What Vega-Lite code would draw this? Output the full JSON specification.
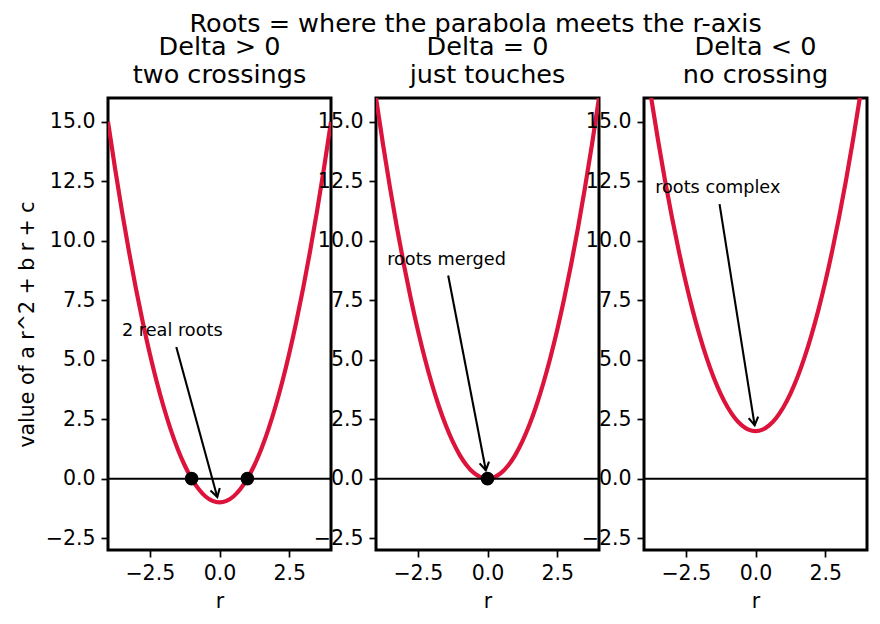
{
  "$schema": "https://vega.github.io/schema/vega-lite/v6.json",
  "background": "white",
  "padding": {"left": 15, "top": 12, "right": 5, "bottom": 5},
  "title": {
    "text": "Roots = where the parabola meets the r-axis",
    "anchor": "middle",
    "offset": -4,
    "dx": 33
  },
  "spacing": 45,
  "bounds": "flush",
  "datasets": {
    "curves": [
      {"r": -4.0, "pos": 15.0, "zero": 16.0, "neg": 18.0},
      {"r": -3.75, "pos": 13.0625, "zero": 14.0625, "neg": 16.0625},
      {"r": -3.5, "pos": 11.25, "zero": 12.25, "neg": 14.25},
      {"r": -3.25, "pos": 9.5625, "zero": 10.5625, "neg": 12.5625},
      {"r": -3.0, "pos": 8.0, "zero": 9.0, "neg": 11.0},
      {"r": -2.75, "pos": 6.5625, "zero": 7.5625, "neg": 9.5625},
      {"r": -2.5, "pos": 5.25, "zero": 6.25, "neg": 8.25},
      {"r": -2.25, "pos": 4.0625, "zero": 5.0625, "neg": 7.0625},
      {"r": -2.0, "pos": 3.0, "zero": 4.0, "neg": 6.0},
      {"r": -1.75, "pos": 2.0625, "zero": 3.0625, "neg": 5.0625},
      {"r": -1.5, "pos": 1.25, "zero": 2.25, "neg": 4.25},
      {"r": -1.25, "pos": 0.5625, "zero": 1.5625, "neg": 3.5625},
      {"r": -1.0, "pos": 0.0, "zero": 1.0, "neg": 3.0},
      {"r": -0.75, "pos": -0.4375, "zero": 0.5625, "neg": 2.5625},
      {"r": -0.5, "pos": -0.75, "zero": 0.25, "neg": 2.25},
      {"r": -0.25, "pos": -0.9375, "zero": 0.0625, "neg": 2.0625},
      {"r": 0.0, "pos": -1.0, "zero": 0.0, "neg": 2.0},
      {"r": 0.25, "pos": -0.9375, "zero": 0.0625, "neg": 2.0625},
      {"r": 0.5, "pos": -0.75, "zero": 0.25, "neg": 2.25},
      {"r": 0.75, "pos": -0.4375, "zero": 0.5625, "neg": 2.5625},
      {"r": 1.0, "pos": 0.0, "zero": 1.0, "neg": 3.0},
      {"r": 1.25, "pos": 0.5625, "zero": 1.5625, "neg": 3.5625},
      {"r": 1.5, "pos": 1.25, "zero": 2.25, "neg": 4.25},
      {"r": 1.75, "pos": 2.0625, "zero": 3.0625, "neg": 5.0625},
      {"r": 2.0, "pos": 3.0, "zero": 4.0, "neg": 6.0},
      {"r": 2.25, "pos": 4.0625, "zero": 5.0625, "neg": 7.0625},
      {"r": 2.5, "pos": 5.25, "zero": 6.25, "neg": 8.25},
      {"r": 2.75, "pos": 6.5625, "zero": 7.5625, "neg": 9.5625},
      {"r": 3.0, "pos": 8.0, "zero": 9.0, "neg": 11.0},
      {"r": 3.25, "pos": 9.5625, "zero": 10.5625, "neg": 12.5625},
      {"r": 3.5, "pos": 11.25, "zero": 12.25, "neg": 14.25},
      {"r": 3.75, "pos": 13.0625, "zero": 14.0625, "neg": 16.0625},
      {"r": 4.0, "pos": 15.0, "zero": 16.0, "neg": 18.0}
    ],
    "roots": [
      {"case": "pos", "r": -1, "value": 0},
      {"case": "pos", "r": 1, "value": 0},
      {"case": "zero", "r": 0, "value": 0}
    ],
    "notes": [
      {"case": "pos", "label": "2 real roots", "tx": -3.5, "ty": 6, "ax": -1.55, "ay": 5.53, "hx": -0.08, "hy": -0.77},
      {"case": "zero", "label": "roots merged", "tx": -3.6, "ty": 9, "ax": -1.41, "ay": 8.54, "hx": -0.06, "hy": 0.35},
      {"case": "neg", "label": "roots complex", "tx": -3.6, "ty": 12, "ax": -1.29, "ay": 11.54, "hx": -0.03, "hy": 2.24}
    ]
  },
  "hconcat": [
    {
      "width": 223,
      "height": 452,
      "title": {"text": ["Delta > 0", "two crossings"]},
      "layer": [
        {
          "data": {"name": "curves"},
          "mark": {"type": "line", "color": "#dc143c", "strokeWidth": 4.2, "clip": true, "interpolate": "monotone"},
          "encoding": {
            "x": {"field": "r", "type": "quantitative", "scale": {"domain": [-4, 4], "nice": false, "zero": false},
                  "axis": {"values": [-2.5, 0, 2.5], "format": ".1f", "title": "r"}},
            "y": {"field": "pos", "type": "quantitative", "scale": {"domain": [-3, 16], "nice": false, "zero": false},
                  "axis": {"values": [-2.5, 0, 2.5, 5, 7.5, 10, 12.5, 15], "format": ".1f", "title": "value of a r^2 + b r + c"}}
          }
        },
        {
          "data": {"values": [{}]},
          "mark": {"type": "rule", "color": "black", "strokeWidth": 2},
          "encoding": {"y": {"datum": 0}}
        },
        {
          "data": {"name": "roots"},
          "transform": [{"filter": "datum.case == 'pos'"}],
          "mark": {"type": "point", "filled": true, "color": "black", "size": 185, "opacity": 1, "shape": "circle"},
          "encoding": {"x": {"field": "r", "type": "quantitative"}, "y": {"field": "value", "type": "quantitative"}}
        },
        {
          "data": {"name": "notes"},
          "transform": [{"filter": "datum.case == 'pos'"}],
          "mark": {"type": "rule", "color": "black", "strokeWidth": 2.1},
          "encoding": {
            "x": {"field": "ax", "type": "quantitative"}, "x2": {"field": "hx"},
            "y": {"field": "ay", "type": "quantitative"}, "y2": {"field": "hy"}
          }
        },
        {
          "data": {"name": "notes"},
          "transform": [{"filter": "datum.case == 'pos'"}],
          "mark": {"type": "point", "filled": false, "color": "black", "strokeWidth": 2.1, "opacity": 1, "size": 256, "angle": 344.5, "shape": "M -0.6 -1 L 0 0 L 0.6 -1"},
          "encoding": {"x": {"field": "hx", "type": "quantitative"}, "y": {"field": "hy", "type": "quantitative"}}
        },
        {
          "data": {"name": "notes"},
          "transform": [{"filter": "datum.case == 'pos'"}],
          "mark": {"type": "text", "align": "left", "baseline": "alphabetic", "font": "DejaVu Sans", "fontSize": 17.7, "color": "black"},
          "encoding": {"x": {"field": "tx", "type": "quantitative"}, "y": {"field": "ty", "type": "quantitative"}, "text": {"field": "label"}}
        }
      ]
    },
    {
      "width": 223,
      "height": 452,
      "title": {"text": ["Delta = 0", "just touches"]},
      "layer": [
        {
          "data": {"name": "curves"},
          "mark": {"type": "line", "color": "#dc143c", "strokeWidth": 4.2, "clip": true, "interpolate": "monotone"},
          "encoding": {
            "x": {"field": "r", "type": "quantitative", "scale": {"domain": [-4, 4], "nice": false, "zero": false},
                  "axis": {"values": [-2.5, 0, 2.5], "format": ".1f", "title": "r"}},
            "y": {"field": "zero", "type": "quantitative", "scale": {"domain": [-3, 16], "nice": false, "zero": false},
                  "axis": {"values": [-2.5, 0, 2.5, 5, 7.5, 10, 12.5, 15], "format": ".1f", "title": null}}
          }
        },
        {
          "data": {"values": [{}]},
          "mark": {"type": "rule", "color": "black", "strokeWidth": 2},
          "encoding": {"y": {"datum": 0}}
        },
        {
          "data": {"name": "roots"},
          "transform": [{"filter": "datum.case == 'zero'"}],
          "mark": {"type": "point", "filled": true, "color": "black", "size": 185, "opacity": 1, "shape": "circle"},
          "encoding": {"x": {"field": "r", "type": "quantitative"}, "y": {"field": "value", "type": "quantitative"}}
        },
        {
          "data": {"name": "notes"},
          "transform": [{"filter": "datum.case == 'zero'"}],
          "mark": {"type": "rule", "color": "black", "strokeWidth": 2.1},
          "encoding": {
            "x": {"field": "ax", "type": "quantitative"}, "x2": {"field": "hx"},
            "y": {"field": "ay", "type": "quantitative"}, "y2": {"field": "hy"}
          }
        },
        {
          "data": {"name": "notes"},
          "transform": [{"filter": "datum.case == 'zero'"}],
          "mark": {"type": "point", "filled": false, "color": "black", "strokeWidth": 2.1, "opacity": 1, "size": 256, "angle": 349, "shape": "M -0.6 -1 L 0 0 L 0.6 -1"},
          "encoding": {"x": {"field": "hx", "type": "quantitative"}, "y": {"field": "hy", "type": "quantitative"}}
        },
        {
          "data": {"name": "notes"},
          "transform": [{"filter": "datum.case == 'zero'"}],
          "mark": {"type": "text", "align": "left", "baseline": "alphabetic", "font": "DejaVu Sans", "fontSize": 17.7, "color": "black"},
          "encoding": {"x": {"field": "tx", "type": "quantitative"}, "y": {"field": "ty", "type": "quantitative"}, "text": {"field": "label"}}
        }
      ]
    },
    {
      "width": 223,
      "height": 452,
      "title": {"text": ["Delta < 0", "no crossing"]},
      "layer": [
        {
          "data": {"name": "curves"},
          "mark": {"type": "line", "color": "#dc143c", "strokeWidth": 4.2, "clip": true, "interpolate": "monotone"},
          "encoding": {
            "x": {"field": "r", "type": "quantitative", "scale": {"domain": [-4, 4], "nice": false, "zero": false},
                  "axis": {"values": [-2.5, 0, 2.5], "format": ".1f", "title": "r"}},
            "y": {"field": "neg", "type": "quantitative", "scale": {"domain": [-3, 16], "nice": false, "zero": false},
                  "axis": {"values": [-2.5, 0, 2.5, 5, 7.5, 10, 12.5, 15], "format": ".1f", "title": null}}
          }
        },
        {
          "data": {"values": [{}]},
          "mark": {"type": "rule", "color": "black", "strokeWidth": 2},
          "encoding": {"y": {"datum": 0}}
        },
        {
          "data": {"name": "notes"},
          "transform": [{"filter": "datum.case == 'neg'"}],
          "mark": {"type": "rule", "color": "black", "strokeWidth": 2.1},
          "encoding": {
            "x": {"field": "ax", "type": "quantitative"}, "x2": {"field": "hx"},
            "y": {"field": "ay", "type": "quantitative"}, "y2": {"field": "hy"}
          }
        },
        {
          "data": {"name": "notes"},
          "transform": [{"filter": "datum.case == 'neg'"}],
          "mark": {"type": "point", "filled": false, "color": "black", "strokeWidth": 2.1, "opacity": 1, "size": 256, "angle": 351, "shape": "M -0.6 -1 L 0 0 L 0.6 -1"},
          "encoding": {"x": {"field": "hx", "type": "quantitative"}, "y": {"field": "hy", "type": "quantitative"}}
        },
        {
          "data": {"name": "notes"},
          "transform": [{"filter": "datum.case == 'neg'"}],
          "mark": {"type": "text", "align": "left", "baseline": "alphabetic", "font": "DejaVu Sans", "fontSize": 17.7, "color": "black"},
          "encoding": {"x": {"field": "tx", "type": "quantitative"}, "y": {"field": "ty", "type": "quantitative"}, "text": {"field": "label"}}
        }
      ]
    }
  ],
  "config": {
    "font": "DejaVu Sans",
    "view": {"stroke": "black", "strokeWidth": 3},
    "axis": {
      "grid": false,
      "domain": false,
      "ticks": true,
      "tickColor": "black",
      "tickWidth": 1.7,
      "tickSize": 7,
      "labelFont": "DejaVu Sans",
      "labelFontSize": 20.5,
      "labelColor": "black",
      "labelPadding": 6,
      "labelOverlap": false,
      "titleFont": "DejaVu Sans",
      "titleFontSize": 20.5,
      "titleFontWeight": "normal",
      "titleColor": "black",
      "titlePadding": 8
    },
    "title": {
      "font": "DejaVu Sans",
      "fontSize": 25.5,
      "fontWeight": "normal",
      "color": "black",
      "lineHeight": 27.5,
      "offset": 10
    }
  }
}
